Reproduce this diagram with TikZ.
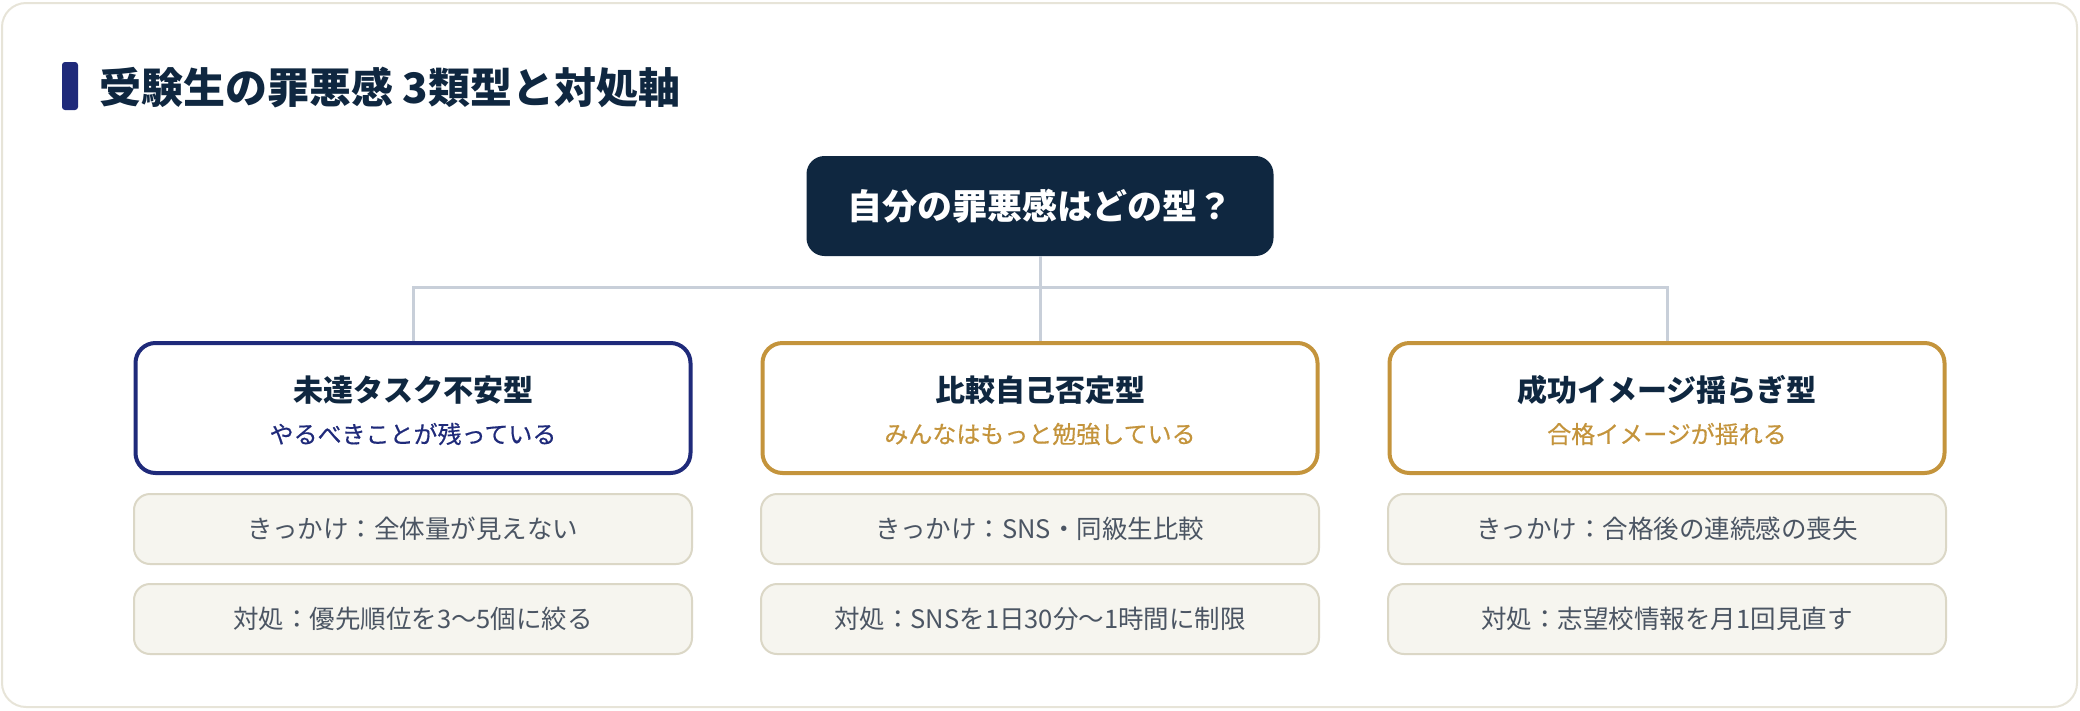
\documentclass[tikz,border=0pt]{standalone}
\usepackage{fontspec}
\setmainfont{Noto Sans CJK JP}
\newfontfamily\jpmedium[FakeBold=0.4]{Noto Sans CJK JP}
\usepackage{tikz}
\usetikzlibrary{positioning}

\definecolor{inkdark}{HTML}{0F2740}
\definecolor{navyline}{HTML}{1F2A7A}
\definecolor{goldline}{HTML}{C4943C}
\definecolor{slatetext}{HTML}{4B5563}
\definecolor{cardfill}{HTML}{F6F5EF}
\definecolor{cardline}{HTML}{DBD7C6}
\definecolor{linkgrey}{HTML}{C8CFD9}
\definecolor{frameline}{HTML}{E7E4D8}

\tikzset{
  rootbox/.style={fill=inkdark, rounded corners=18pt, minimum width=467pt, minimum height=100pt,
    text=white, font=\bfseries\fontsize{35}{42}\selectfont},
  typebox/.style={draw=#1, line width=4pt, fill=white, rounded corners=20pt,
    minimum width=555pt, minimum height=130pt},
  typetitle/.style={text=inkdark, font=\bfseries\fontsize{30}{36}\selectfont},
  typesub/.style={text=#1, font=\jpmedium\fontsize{24}{29}\selectfont},
  infobox/.style={draw=cardline, line width=2pt, fill=cardfill, rounded corners=16pt,
    minimum width=558pt, minimum height=70pt, text=slatetext, font=\fontsize{25.5}{30}\selectfont},
  link/.style={draw=linkgrey, line width=3pt}
}

\begin{document}
\begin{tikzpicture}[x=1pt,y=-1pt]
    % frame
    \useasboundingbox (0,0) rectangle (2080,710);
    \draw[frameline, line width=2pt, fill=white, rounded corners=24pt] (2,3) rectangle (2077,707);

    % heading
    \fill[navyline, rounded corners=3pt] (62,62) rectangle (78,110);
    \node[anchor=west, inner sep=0pt, text=inkdark, font=\bfseries\fontsize{42}{50}\selectfont]
        (heading) at (99,88) {受験生の罪悪感 3類型と対処軸};

    % root question
    \node[rootbox] (root) at (1040,206) {自分の罪悪感はどの型？};

    % three types
    \node[typebox=navyline] (tA) at (413,408) {};
    \node[typebox=goldline] (tB) at (1040,408) {};
    \node[typebox=goldline] (tC) at (1667,408) {};

    \node[typetitle] (tAname) at (413,390) {未達タスク不安型};
    \node[typesub=navyline] (tAsub) at (413,434) {やるべきことが残っている};
    \node[typetitle] (tBname) at (1040,390) {比較自己否定型};
    \node[typesub=goldline] (tBsub) at (1040,434) {みんなはもっと勉強している};
    \node[typetitle] (tCname) at (1667,390) {成功イメージ揺らぎ型};
    \node[typesub=goldline] (tCsub) at (1667,434) {合格イメージが揺れる};

    % connectors
    \coordinate (bus) at (1040,287);
    \draw[link] (root.south) -- (tB.north);
    \draw[link] (tA.north) |- (bus) -| (tC.north);

    % triggers and actions
    \node[infobox] (kA) at (413,529) {きっかけ：全体量が見えない};
    \node[infobox] (kB) at (1040,529) {きっかけ：SNS・同級生比較};
    \node[infobox] (kC) at (1667,529) {きっかけ：合格後の連続感の喪失};

    \node[infobox] (aA) at (413,619) {対処：優先順位を3〜5個に絞る};
    \node[infobox] (aB) at (1040,619) {対処：SNSを1日30分〜1時間に制限};
    \node[infobox] (aC) at (1667,619) {対処：志望校情報を月1回見直す};
\end{tikzpicture}
\end{document}
